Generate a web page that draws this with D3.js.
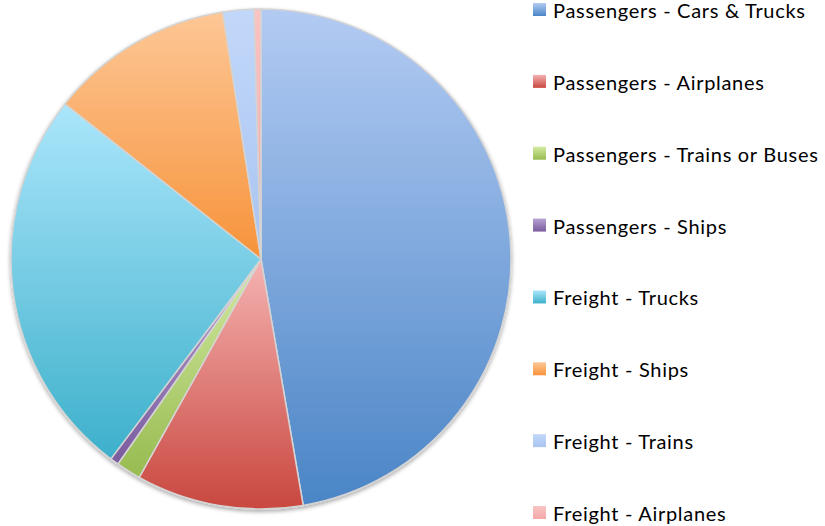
<!DOCTYPE html>
<html>
<head>
<meta charset="utf-8">
<title>Transport pie</title>
<script src="https://d3js.org/d3.v7.min.js"></script>
<style>
  body { margin: 0; background: #fff; }
  svg { display: block; }
</style>
</head>
<body>
<svg width="825" height="526"></svg>
<script>

// categories and shares (percent)
var categories = ["Passengers - Cars & Trucks", "Passengers - Airplanes", "Passengers - Trains or Buses",
                  "Passengers - Ships", "Freight - Trucks", "Freight - Ships", "Freight - Trains", "Freight - Airplanes"];
var shares = [47.3, 10.8, 1.6, 0.55, 25.4, 11.9, 2.0, 0.45];
// light (top) and dark (bottom) gradient stops for each slice
var lightColors = ["#b3cbf3", "#f5b3b2", "#d4eaa3", "#b8a3d3", "#abe6fb", "#fdc796", "#c2d8fa", "#f9c4c3"];
var darkColors  = ["#4a85c6", "#c9473f", "#97bb50", "#7a5b9e", "#3db0cb", "#f7933a", "#a9c4f0", "#f2a9a8"];

var svg = d3.select("svg");
var cx = 261, cy = 259, R = 250;

var defs = svg.append("defs");
categories.forEach(function(c, i) {
  var g = defs.append("linearGradient")
    .attr("id", "grad" + i)
    .attr("x1", 0).attr("y1", 0).attr("x2", 0).attr("y2", 1);
  g.append("stop").attr("offset", "0%").attr("stop-color", lightColors[i]);
  g.append("stop").attr("offset", "100%").attr("stop-color", darkColors[i]);
});

var shadow = defs.append("filter").attr("id", "shadow")
  .attr("x", "-10%").attr("y", "-10%").attr("width", "120%").attr("height", "120%");
shadow.append("feGaussianBlur").attr("in", "SourceAlpha").attr("stdDeviation", 2);
shadow.append("feOffset").attr("dx", 0).attr("dy", 2).attr("result", "off");
shadow.append("feComponentTransfer").append("feFuncA").attr("type", "linear").attr("slope", 0.35);
var merge = shadow.append("feMerge");
merge.append("feMergeNode");
merge.append("feMergeNode").attr("in", "SourceGraphic");

var pie = d3.pie().sort(null).value(function(d) { return d.value; });
var arc = d3.arc().innerRadius(0).outerRadius(R);

var data = shares.map(function(v, i) { return { value: v, i: i }; });
var arcs = pie(data);

svg.append("g")
  .attr("transform", "translate(" + cx + "," + cy + ")")
  .attr("filter", "url(#shadow)")
  .selectAll("path")
  .data(arcs)
  .enter()
  .append("path")
  .attr("d", arc)
  .attr("fill", function(d) { return "url(#grad" + d.data.i + ")"; })
  .attr("stroke", "#d4d4d4")
  .attr("stroke-width", 1.5)
  .attr("stroke-linejoin", "round");

// legend
var legendY = d3.scalePoint().domain(categories).range([18, 521]);

var leg = svg.append("g")
  .selectAll("g")
  .data(categories)
  .enter()
  .append("g")
  .attr("transform", function(d) { return "translate(533," + legendY(d) + ")"; });

leg.append("rect")
  .attr("x", 0).attr("y", -15)
  .attr("width", 13).attr("height", 13)
  .attr("fill", function(d, i) { return "url(#grad" + i + ")"; });

leg.append("text")
  .attr("x", 20).attr("y", 0)
  .attr("font-family", "Lato, sans-serif")
  .attr("font-size", "20px")
  .attr("letter-spacing", "0.7px")
  .attr("fill", "#000")
  .text(function(d) { return d; });

</script>
</body>
</html>
